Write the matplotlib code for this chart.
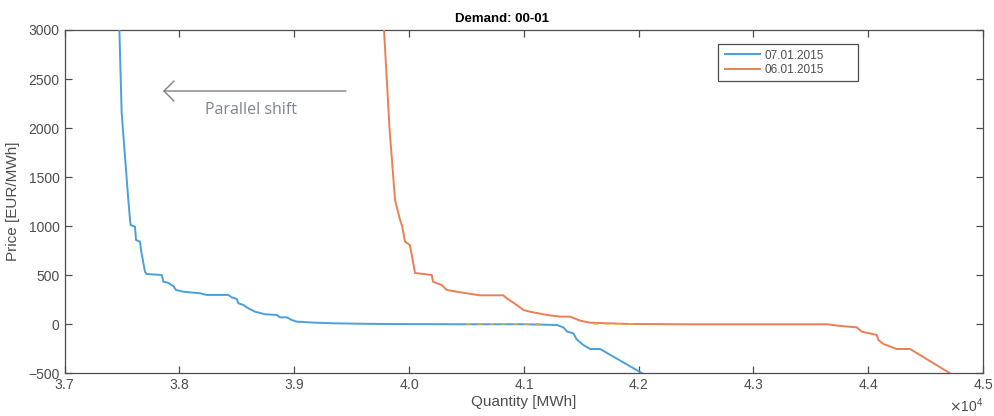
import matplotlib
matplotlib.use("Agg")
import matplotlib.pyplot as plt
from matplotlib.patches import Rectangle

plt.rcParams["font.family"] = ["Liberation Sans", "DejaVu Sans"]

# supply curve 07.01.2015 (quantity in MWh, price in EUR/MWh)
q_blue = [37477, 37497, 37555, 37570, 37575, 37613, 37622, 37657, 37665, 37700,
          37715, 37846, 37860, 37900, 37947, 37970, 38034, 38179, 38238, 38426,
          38456, 38499, 38513, 38557, 38600, 38659, 38746, 38848, 38876, 38935,
          38978, 39022, 39150, 39338, 39600, 39922, 40500, 41000, 41286, 41344,
          41379, 41431, 41460, 41518, 41577, 41664, 42032]
p_blue = [3000, 2153, 1267, 1063, 1012, 995, 859, 842, 757, 536,
          513, 502, 434, 424, 390, 350, 332, 316, 299, 299,
          275, 258, 214, 197, 163, 128, 102, 95, 71, 71,
          44, 27, 18, 10, 5, 2, 0, 0, -7, -31,
          -75, -92, -153, -211, -252, -252, -500]

# supply curve 06.01.2015
q_orange = [39782, 39830, 39878, 39922, 39940, 39965, 40008, 40052, 40198, 40209,
            40285, 40328, 40415, 40618, 40821, 40851, 40895, 40938, 40996, 41054,
            41200, 41316, 41403, 41490, 41577, 41925, 42360, 43639, 43755, 43900,
            43943, 44074, 44088, 44132, 44248, 44364, 44713]
p_orange = [3000, 2000, 1267, 1063, 1000, 842, 808, 523, 502, 434,
            400, 350, 332, 295, 295, 265, 230, 197, 146, 128,
            95, 78, 78, 37, 16, 3, 0, 0, -17, -31,
            -75, -109, -160, -201, -252, -252, -500]

# faint dashed residue on the zero line
q_dash1 = [40500, 41170]
q_dash2 = [41600, 42010]
p_dash = [0, 0]

fig = plt.figure(figsize=(9.94, 4.16), dpi=100)
ax = fig.add_axes([0.065, 0.1026, 0.924, 0.8253])

ax.plot(q_blue, p_blue, color="#4a9fdc", lw=1.4, label="07.01.2015", zorder=3)
ax.plot(q_orange, p_orange, color="#ea7f55", lw=1.4, label="06.01.2015", zorder=3)
for qd in (q_dash1, q_dash2):
    ax.plot(qd, p_dash, color="#edb120", lw=1.2, dashes=(3, 4), alpha=0.8, zorder=4)

ax.set_xlim(37000, 45000)
ax.set_ylim(-500, 3000)
ax.set_xticks([37000 + 1000 * i for i in range(9)])
ax.set_yticks(range(-500, 3001, 500))
ax.ticklabel_format(style="sci", axis="x", scilimits=(4, 4), useMathText=True)

# matlab style box with inward ticks on all sides
for s in ax.spines.values():
    s.set_color("#4d4d4d")
    s.set_linewidth(0.9)
ax.tick_params(direction="in", top=True, right=True, length=5, width=0.9,
               colors="#4d4d4d", labelsize=10, labelcolor="#4d4d4d")
ax.xaxis.get_offset_text().set_color("#4d4d4d")
ax.xaxis.get_offset_text().set_fontsize(10)

ax.set_title("Demand: 00-01", fontsize=9.5, fontweight="bold", x=0.476, pad=6)
ax.set_xlabel("Quantity [MWh]", fontsize=11, color="#4d4d4d", labelpad=2)
ax.set_ylabel("Price [EUR/MWh]", fontsize=11, color="#4d4d4d", labelpad=6)

# arrow + annotation
ax.annotate("", xy=(37857, 2378), xytext=(39451, 2378),
            arrowprops=dict(arrowstyle="->,head_length=0.36,head_width=0.36",
                            color="#808080", lw=1, mutation_scale=20,
                            shrinkA=0, shrinkB=0))
ax.text(38225, 2184, "Parallel shift", fontsize=11.5, color="#7d8590",
        ha="left", va="center", family=["Open Sans", "DejaVu Sans"])

# legend: matlab draws a wide box, so the frame is a separate rectangle
leg = ax.legend(loc="upper left", bbox_to_anchor=(0.7185, 0.943), fontsize=8.5,
                frameon=False, handlelength=3.0, handletextpad=0.35,
                borderpad=0, borderaxespad=0, labelspacing=0.2)
for t in leg.get_texts():
    t.set_color("#4d4d4d")
ax.add_patch(Rectangle((0.7115, 0.8514), 0.1524, 0.1078, transform=ax.transAxes,
                       fill=False, edgecolor="#4d4d4d", lw=0.9, zorder=5))

fig.savefig("out.png", dpi=100)
